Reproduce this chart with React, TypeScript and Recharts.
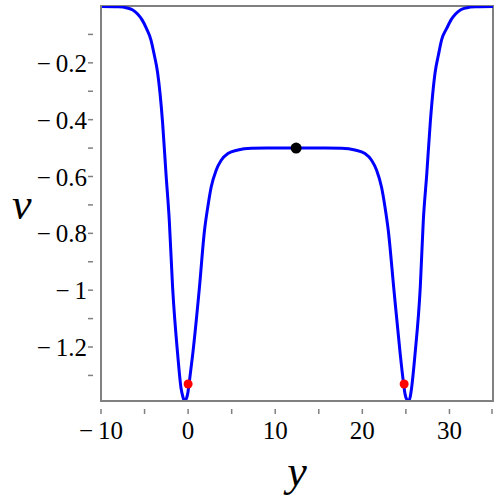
import React from "react";
import {
  ComposedChart, Line, Scatter, XAxis, YAxis, ReferenceArea, Label,
} from "recharts";

// curve v(y)
const yValues = [
  -10, -8, -7, -6.4, -5.8, -5.3, -4.8, -4.27, -3.9, -3.5, -2.93, -2.54, -2.16,
  -1.78, -1.2, -0.81, -0.6, -0.43, -0.25, -0.05, 0.15, 0.53, 1.3, 1.88, 2.26,
  2.65, 3.22, 3.8, 4.57, 5.72, 7.27, 9, 12.4, 15.8, 17.6, 19.15, 20.3, 21.06,
  21.64, 22.2, 22.6, 22.98, 23.6, 24.35, 24.7, 24.9, 25.1, 25.3, 25.5, 25.65,
  26.05, 26.65, 27.0, 27.4, 27.8, 28.35, 28.75, 29.1, 29.7, 30.2, 30.7, 31.3,
  31.9, 33, 35,
];
const vValues = [
  -0.002, -0.003, -0.007, -0.013, -0.028, -0.048, -0.078, -0.119, -0.17,
  -0.235, -0.41, -0.59, -0.755, -0.99, -1.225, -1.345, -1.375, -1.39, -1.385,
  -1.365, -1.32, -1.225, -0.99, -0.79, -0.707, -0.637, -0.578, -0.543, -0.519,
  -0.507, -0.501, -0.5, -0.5, -0.5, -0.501, -0.507, -0.519, -0.543, -0.578,
  -0.637, -0.707, -0.79, -0.99, -1.225, -1.32, -1.365, -1.385, -1.39, -1.375,
  -1.345, -1.225, -0.99, -0.755, -0.59, -0.41, -0.235, -0.17, -0.119, -0.078,
  -0.048, -0.028, -0.013, -0.007, -0.003, -0.002,
];

const blackPoint = [{ x: 12.4, v: -0.5 }];
const redPoints = [
  { x: 0, v: -1.33 },
  { x: 24.8, v: -1.33 },
];

const xTicks = [-10, -5, 0, 5, 10, 15, 20, 25, 30, 35];
const xLabelled = [-10, 0, 10, 20, 30];
const yTicks = [-1.3, -1.2, -1.1, -1, -0.9, -0.8, -0.7, -0.6, -0.5, -0.4, -0.3, -0.2, -0.1];
const yLabelled = [-1.2, -1, -0.8, -0.6, -0.4, -0.2];

const curve = yValues.map((x, i) => ({ x, v: vValues[i] }));

const AXIS = "#808080";
const FONT = "'Liberation Serif', 'Times New Roman', serif";
const tickText = { fontFamily: FONT, fontSize: 25, fill: "#000" };

// Maple-style minus with a thin gap before the number
const fmt = (n: number) => (n < 0 ? "\u2212\u2009" + String(-n) : String(n));

const XTick = (props: any) => {
  const { x, y, payload } = props;
  const major = xLabelled.includes(payload.value);
  return (
    <g>
      <line x1={x} y1={y} x2={x} y2={y + 5} stroke={AXIS} strokeWidth={1.5} />
      {major && (
        <text x={x} y={y + 30} textAnchor="middle" style={tickText}>
          {fmt(payload.value)}
        </text>
      )}
    </g>
  );
};

const YTick = (props: any) => {
  const { x, y, payload } = props;
  const major = yLabelled.some((t) => Math.abs(t - payload.value) < 1e-6);
  return (
    <g>
      <line x1={x} y1={y} x2={x - 5} y2={y} stroke={AXIS} strokeWidth={1.5} />
      {major && (
        <text x={x - 6} y={y + 9} textAnchor="end" style={tickText}>
          {fmt(payload.value)}
        </text>
      )}
    </g>
  );
};

export default function App() {
  return (
    <div style={{ position: "absolute", left: 0, top: 0, background: "#fff" }}>
      <ComposedChart
        width={500}
        height={500}
        margin={{ top: 6, right: 7, bottom: 0, left: 0 }}
      >
        <XAxis
          type="number"
          dataKey="x"
          domain={[-10, 35]}
          ticks={xTicks}
          tick={<XTick />}
          tickLine={false}
          axisLine={{ stroke: AXIS, strokeWidth: 2 }}
          height={99}
          allowDataOverflow
        >
          <Label
            value="y"
            position="insideBottom"
            offset={14}
            style={{ fontFamily: FONT, fontStyle: "italic", fontSize: 44, fill: "#000" }}
          />
        </XAxis>
        <YAxis
          type="number"
          dataKey="v"
          domain={[-1.39, 0]}
          ticks={yTicks}
          tick={<YTick />}
          tickLine={false}
          axisLine={{ stroke: AXIS, strokeWidth: 2 }}
          width={101}
          allowDataOverflow
        >
          <Label
            value="v"
            position="insideLeft"
            offset={12}
            style={{ fontFamily: FONT, fontStyle: "italic", fontSize: 44, fill: "#000" }}
          />
        </YAxis>
        <ReferenceArea
          x1={-10}
          x2={35}
          y1={-1.39}
          y2={0}
          fill="none"
          stroke={AXIS}
          strokeWidth={2}
        />
        <Line
          data={curve}
          dataKey="v"
          type="monotone"
          stroke="#0000ff"
          strokeWidth={3}
          dot={false}
          isAnimationActive={false}
        />
        <Scatter
          data={redPoints}
          dataKey="v"
          fill="#ff0000"
          shape={(p: any) => <circle cx={p.cx} cy={p.cy} r={4.5} fill="#ff0000" />}
          isAnimationActive={false}
        />
        <Scatter
          data={blackPoint}
          dataKey="v"
          fill="#000"
          shape={(p: any) => <circle cx={p.cx} cy={p.cy} r={5.5} fill="#000" />}
          isAnimationActive={false}
        />
      </ComposedChart>
    </div>
  );
}
